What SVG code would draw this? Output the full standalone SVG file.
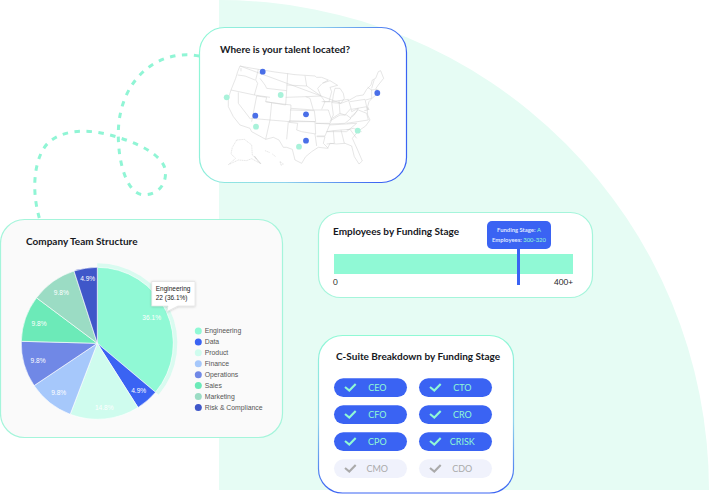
<svg xmlns="http://www.w3.org/2000/svg" width="709" height="494" viewBox="0 0 709 494">
<style>
text{font-family:"Lato","Liberation Sans",sans-serif}
.title{font-size:10px;font-weight:700;fill:#16181d}
.card{stroke-width:1.2}
.state{fill:none;stroke:#cfcfcf;stroke-width:1.6;stroke-linejoin:round}
.faint{fill:none;stroke:#d2d2d2;stroke-width:1.6;stroke-dasharray:4 1.5;stroke-linejoin:round}
.blue{fill:#4a6fe8}
.mint{fill:#a9f2da}
.sl{stroke:#fff;stroke-width:.6}
.pct{font-family:"Liberation Sans",Arial,sans-serif;font-size:6.6px;fill:#fff;text-anchor:middle}
.lg{font-family:"Liberation Sans",Arial,sans-serif;font-size:6.85px;fill:#555}
.tt{font-family:"Liberation Sans",Arial,sans-serif;font-size:6.5px;fill:#222}
.pill{fill:#3a63f3}
.off{fill:#f0f2fc}
.pt{font-size:9px;fill:#90f9d5;text-anchor:middle}
.ot{font-size:9px;fill:#aaa;text-anchor:middle}
.ck{fill:none;stroke:#90f9d5;stroke-width:2.1}
.cko{fill:none;stroke:#aaa;stroke-width:2.1}
.ax{font-size:8.2px;fill:#222}
</style>
<defs>
<linearGradient id="gH" x1="0" y1="0" x2="1" y2="0.15"><stop offset="0" stop-color="#90f9d5"/><stop offset=".55" stop-color="#8fd3ec"/><stop offset="1" stop-color="#3a63f3"/></linearGradient>
<linearGradient id="gV" x1="0" y1="0" x2="0" y2="1"><stop offset="0" stop-color="#90f9d5"/><stop offset=".55" stop-color="#8fd3ec"/><stop offset="1" stop-color="#3a63f3"/></linearGradient>
<filter id="sh" x="-20%" y="-20%" width="140%" height="150%"><feDropShadow dx="0" dy=".5" stdDeviation=".8" flood-color="#000" flood-opacity=".2"/></filter>
</defs>
<path id="backdrop" d="M219 0A490 490 0 0 1 709 490H219Z" fill="#e6fcf4"/>
<g id="connectors">
<path d="M199.3 56C160 48 118 78 118.3 135C118.3 165 128 195 144 194.7C158 194.5 166 185 165.5 172C165 155 135 141 106 134C85 129 62 130 48 143C36 155 30 185 39.3 218" fill="none" stroke="#90f5d5" stroke-width="3" stroke-dasharray="5.5 6.5"/>
</g>
<g id="talent-card">
<rect class="card" x="199.5" y="27.5" width="207" height="155" rx="25" fill="#fff" stroke="url(#gH)"/>
<text class="title" x="220" y="52.5">Where is your talent located?</text>
<g id="us-map" transform="translate(215 60) scale(.3333)">
<path class="state" d="M75 18L95 22L130 28L180 36L240 44L300 48L305 52L320 52L340 60L322 70L345 62L368 76L345 82L350 95L342 125M360 85L375 85L385 100L388 115L378 130L352 128L355 105L360 85M378 130L400 122L425 108L445 105L455 88L468 75L472 60L482 55L490 35L497 32L506 55L490 75L483 85L490 100L474 112L462 125L458 140L462 150L456 142L458 165L465 180L452 198L430 213L412 235L428 270L442 303L432 312L418 290L410 258L390 250L365 252L345 250L338 265L310 262L290 275L272 290L260 310L240 300L232 268L215 262L205 262L192 240L175 232L152 238L110 215L105 205L75 195L55 170L40 140L40 115L48 90L62 55L68 35L75 18Z"/>
<path class="state" d="M78 24L78 34M68 45L90 48L120 60M130 28L122 60L128 70L118 105M48 90L118 105M135 55L150 75L155 85M118 105L165 112M70 97L70 130L107 178M125 108L110 185M125 108L155 112L152 125L170 128L165 180M108 175L165 180L152 238M170 128L228 135L225 185L165 180M155 85L215 92L212 135L152 125M218 40L215 92M215 75L275 78M270 47L275 78M212 112L272 110L285 115L295 150L228 145M225 150L298 152L302 185L222 182M222 185L300 185L302 222L260 215L245 210L248 190L222 187M220 185L215 238M300 222L305 258M295 150L340 150L350 180L345 190L302 190M272 110L318 108L330 125L320 148M275 78L318 108M320 72L308 85L318 108M320 125L345 125M325 125L350 125L355 165L345 185M352 125L372 122L375 160L352 175M372 122L400 118L408 145L390 165L375 160M350 180L375 165L395 165L408 175L390 190L345 192M345 195L425 190L395 215L335 215M302 190L345 192L330 228L305 228M305 230L330 230L325 250L340 265M335 215L355 212L358 250L335 252M355 212L378 210L388 250M378 210L405 208L425 235M395 210L415 205L440 215M408 170L430 150L455 160L460 180L395 190M408 145L410 155L430 145L418 165L405 175M405 125L450 118L455 140L410 148M458 82L470 90L470 115L452 120M468 90L490 88M470 85L478 58M455 140L458 150L448 152"/>
<path class="faint" d="M65 240L88 238L110 255L112 285L135 310L110 296L95 302L70 300L40 314L62 295L48 282L52 262ZM150 272L165 278M172 282L182 290M195 305L205 312L198 316Z"/>
<path d="M118 288L138 312" fill="none" stroke="#bbb" stroke-width="2.4" stroke-dasharray="3 1.5"/>
</g>
<circle class="blue" cx="262.7" cy="71.7" r="2.9"/><circle class="blue" cx="377.3" cy="93" r="2.9"/><circle class="blue" cx="255.3" cy="115.7" r="2.9"/><circle class="blue" cx="306" cy="114.3" r="2.9"/><circle class="blue" cx="306" cy="140.7" r="2.9"/>
<circle class="mint" cx="226.7" cy="97.3" r="2.9"/><circle class="mint" cx="280.7" cy="95" r="2.9"/><circle class="mint" cx="256" cy="126.7" r="2.9"/><circle class="mint" cx="357.7" cy="130.7" r="2.9"/><circle class="mint" cx="299" cy="146.7" r="2.9"/>
</g>
<g id="team-card">
<rect class="card" x=".5" y="219.5" width="282" height="218" rx="24" fill="#fafafa" stroke="#a5f5db"/>
<text class="title" x="26" y="245">Company Team Structure</text>
<path d="M97.3 265.3A78 78 0 0 1 157.1 393.4" fill="none" stroke="#d9fbf0" stroke-width="4"/>
<path class="sl" fill="#90f9d5" d="M97.3 343.3V267.3A76 76 0 0 1 155.5 392.2Z"/>
<path class="sl" fill="#3a63f3" d="M97.3 343.3L155.5 392.2A76 76 0 0 1 138 407.5Z"/>
<path class="sl" fill="#cffcee" d="M97.3 343.3L138 407.5A76 76 0 0 1 70.2 414.3Z"/>
<path class="sl" fill="#a6c8fb" d="M97.3 343.3L70.2 414.3A76 76 0 0 1 34.1 385.6Z"/>
<path class="sl" fill="#7088e6" d="M97.3 343.3L34.1 385.6A76 76 0 0 1 21.3 341.3Z"/>
<path class="sl" fill="#6ceab8" d="M97.3 343.3L21.3 341.3A76 76 0 0 1 36.5 297.8Z"/>
<path class="sl" fill="#9bdcc4" d="M97.3 343.3L36.5 297.8A76 76 0 0 1 74 271Z"/>
<path class="sl" fill="#3f57c9" d="M97.3 343.3L74 271A76 76 0 0 1 97.3 267.3Z"/>
<text class="pct" x="151.7" y="320">36.1%</text><text class="pct" x="138.7" y="392.6">4.9%</text><text class="pct" x="104.3" y="410.3">14.8%</text><text class="pct" x="58.7" y="394.6">9.8%</text><text class="pct" x="38" y="363">9.8%</text><text class="pct" x="39" y="325.6">9.8%</text><text class="pct" x="61.3" y="294.6">9.8%</text><text class="pct" x="87.7" y="281.3">4.9%</text>
<path d="M151.7 281.5H195V306H178L166.7 311.7L168 306H151.7Z" fill="#fff" stroke="#ddd" stroke-width=".6" filter="url(#sh)"/>
<text class="tt" x="155.7" y="291">Engineering</text><text class="tt" x="155.7" y="299.6">22 (36.1%)</text>
<circle cx="198.3" cy="331" r="3.5" fill="#90f9d5"/><text class="lg" x="204.7" y="333.4">Engineering</text>
<circle cx="198.3" cy="342" r="3.5" fill="#3a63f3"/><text class="lg" x="204.7" y="344.4">Data</text>
<circle cx="198.3" cy="352.8" r="3.5" fill="#cffcee"/><text class="lg" x="204.7" y="355.2">Product</text>
<circle cx="198.3" cy="363.7" r="3.5" fill="#a6c8fb"/><text class="lg" x="204.7" y="366.1">Finance</text>
<circle cx="198.3" cy="374.7" r="3.5" fill="#7088e6"/><text class="lg" x="204.7" y="377.1">Operations</text>
<circle cx="198.3" cy="385.5" r="3.5" fill="#6ceab8"/><text class="lg" x="204.7" y="387.9">Sales</text>
<circle cx="198.3" cy="396.6" r="3.5" fill="#9bdcc4"/><text class="lg" x="204.7" y="399">Marketing</text>
<circle cx="198.3" cy="407.4" r="3.5" fill="#3f57c9"/><text class="lg" x="204.7" y="409.8">Risk &amp; Compliance</text>
</g>
<g id="employees-card">
<rect class="card" x="318.5" y="212.5" width="274" height="85" rx="22" fill="#fff" stroke="#a5f5db"/>
<text class="title" x="333" y="235">Employees by Funding Stage</text>
<rect x="334" y="254" width="239" height="20" fill="#90f9d5"/>
<rect x="517" y="248" width="3" height="37" fill="#3a63f3"/>
<rect x="487" y="221" width="64" height="28" rx="5" fill="#3a63f3"/>
<text x="519" y="232" text-anchor="middle" font-size="5.9" font-weight="700" fill="#dfe7ff">Funding Stage: <tspan fill="#90f9d5" font-weight="400">A</tspan></text>
<text x="519" y="242" text-anchor="middle" font-size="5.9" font-weight="700" fill="#dfe7ff">Employees: <tspan fill="#90f9d5" font-weight="400">300-320</tspan></text>
<text class="ax" x="333" y="285">0</text>
<text class="ax" x="573" y="285" text-anchor="end">400+</text>
</g>
<g id="csuite-card">
<rect class="card" x="318.5" y="335.5" width="195" height="157.5" rx="24" fill="#fff" stroke="url(#gV)"/>
<text class="title" x="336" y="360">C-Suite Breakdown by Funding Stage</text>
<rect class="pill" x="334" y="378.2" width="73" height="18.7" rx="9.3"/><path class="ck" d="M345 387L349.3 390.5L355.7 384"/><text class="pt" x="377.3" y="390.7">CEO</text>
<rect class="pill" x="419" y="378.2" width="73" height="18.7" rx="9.3"/><path class="ck" d="M430 387L434.3 390.5L440.7 384"/><text class="pt" x="462.3" y="390.7">CTO</text>
<rect class="pill" x="334" y="405.2" width="73" height="18.7" rx="9.3"/><path class="ck" d="M345 414L349.3 417.5L355.7 411"/><text class="pt" x="377.3" y="417.7">CFO</text>
<rect class="pill" x="419" y="405.2" width="73" height="18.7" rx="9.3"/><path class="ck" d="M430 414L434.3 417.5L440.7 411"/><text class="pt" x="462.3" y="417.7">CRO</text>
<rect class="pill" x="334" y="432.2" width="73" height="18.7" rx="9.3"/><path class="ck" d="M345 441L349.3 444.5L355.7 438"/><text class="pt" x="377.3" y="444.7">CPO</text>
<rect class="pill" x="419" y="432.2" width="73" height="18.7" rx="9.3"/><path class="ck" d="M430 441L434.3 444.5L440.7 438"/><text class="pt" x="462.3" y="444.7">CRISK</text>
<rect class="off" x="334" y="459.2" width="73" height="18.7" rx="9.3"/><path class="cko" d="M345 468L349.3 471.5L355.7 465"/><text class="ot" x="377.3" y="471.7">CMO</text>
<rect class="off" x="419" y="459.2" width="73" height="18.7" rx="9.3"/><path class="cko" d="M430 468L434.3 471.5L440.7 465"/><text class="ot" x="462.3" y="471.7">CDO</text>
</g>
</svg>
